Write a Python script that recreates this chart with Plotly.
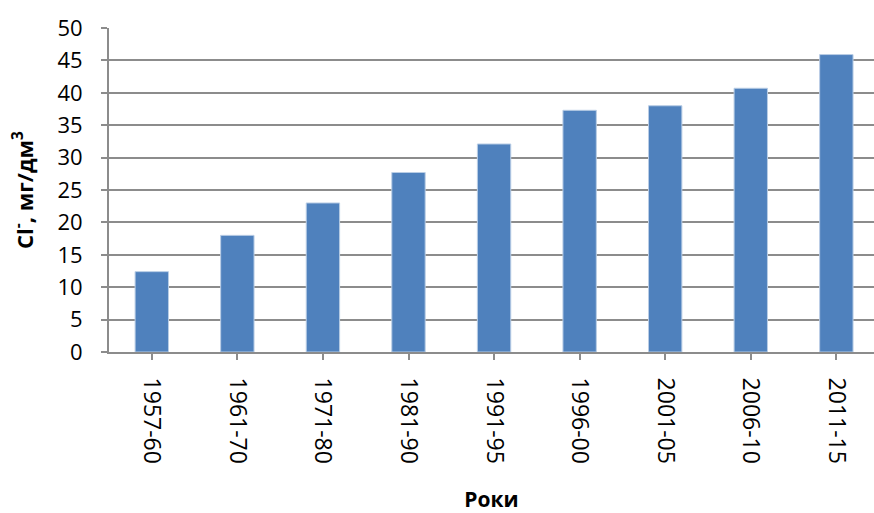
import plotly.graph_objects as go

# Chloride concentration by period
periods = ["1957-60", "1961-70", "1971-80", "1981-90", "1991-95",
           "1996-00", "2001-05", "2006-10", "2011-15"]
chloride = [12.4, 18.0, 23.0, 27.7, 32.1, 37.3, 38.0, 40.7, 45.9]

y_ticks = [0, 5, 10, 15, 20, 25, 30, 35, 40, 45, 50]

font_family = "Open Sans, Noto Sans, sans-serif"
grey = "#8c8c8c"

fig = go.Figure(
    go.Bar(
        x=list(range(len(periods))),
        y=chloride,
        width=0.39,
        marker=dict(color="#4F81BD", line=dict(color="#B9CDE5", width=1)),
    )
)

fig.update_layout(
    width=874,
    height=513,
    margin=dict(l=109, r=0, t=28, b=161),
    paper_bgcolor="white",
    plot_bgcolor="white",
    showlegend=False,
    font=dict(family=font_family, size=22, color="black"),
)

fig.update_xaxes(
    range=[-0.5, 8.44],
    tickmode="array",
    tickvals=list(range(len(periods))),
    ticktext=periods,
    tickangle=90,
    ticks="outside",
    tickson="boundaries",
    ticklen=6,
    tickwidth=1.5,
    tickcolor=grey,
    showline=True,
    linecolor=grey,
    linewidth=2,
    showgrid=False,
    zeroline=False,
    ticklabelstandoff=13,
    tickfont=dict(size=23),
    title=dict(text="<b>Роки</b>", font=dict(size=21), standoff=30),
)

fig.update_yaxes(
    range=[0, 50],
    tickmode="array",
    tickvals=y_ticks,
    ticks="outside",
    ticklen=6,
    tickwidth=1.5,
    tickcolor=grey,
    showline=True,
    linecolor=grey,
    linewidth=2,
    showgrid=True,
    gridcolor=grey,
    gridwidth=1.5,
    zeroline=False,
    ticklabelstandoff=14,
    tickfont=dict(size=22),
    title=dict(text="<b>Cl<sup>-</sup>, мг/дм<sup>3</sup></b>", font=dict(size=22), standoff=18),
)

fig.write_html("out.html")
